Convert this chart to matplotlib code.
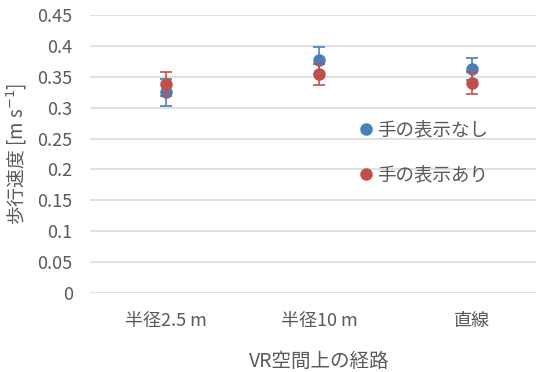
import numpy as np
import matplotlib.pyplot as plt

plt.rcParams['font.family'] = ['Noto Sans CJK JP', 'DejaVu Sans']

routes = ['半径2.5 m', '半径10 m', '直線']
no_hand = [0.325, 0.377, 0.363]
no_hand_err = [0.022, 0.022, 0.018]
with_hand = [0.338, 0.354, 0.340]
with_hand_err = [0.019, 0.017, 0.018]
yticks = [0, 0.05, 0.1, 0.15, 0.2, 0.25, 0.3, 0.35, 0.4, 0.45]
ytick_labels = ['0', '0.05', '0.1', '0.15', '0.2', '0.25', '0.3', '0.35', '0.4', '0.45']

gray = '#595959'
blue = '#4a7ebb'
red = '#c0504d'

fig = plt.figure(figsize=(5.36, 3.72), dpi=100)
# axes run a little past the right edge, like the original export
ax = fig.add_axes([90 / 536, 79 / 372, 458 / 536, 278 / 372])

x = np.arange(len(routes))
ax.errorbar(x, no_hand, yerr=no_hand_err, fmt='o', color=blue, ms=8,
            elinewidth=1.2, capsize=4, capthick=1.2, label='手の表示なし', zorder=3)
ax.errorbar(x, with_hand, yerr=with_hand_err, fmt='o', color=red, ms=8,
            elinewidth=1.2, capsize=4, capthick=1.2, label='手の表示あり', zorder=4)

ax.set_xlim(-0.5, len(routes) - 0.5)
ax.set_ylim(0, 0.45)
ax.set_yticks(yticks)
ax.set_yticklabels(ytick_labels)
ax.set_xticks(x)
ax.set_xticklabels(routes)
ax.grid(axis='y', color='#d9d9d9', lw=1.1)
ax.set_axisbelow(True)
for s in ax.spines.values():
    s.set_visible(False)
ax.tick_params(length=0, colors=gray, labelsize=13)
ax.tick_params(axis='y', pad=12.5)
ax.tick_params(axis='x', pad=14)

ax.set_xlabel('VR空間上の経路', color=gray, fontsize=14, labelpad=15)
ax.set_ylabel('歩行速度 [m s$^{-1}$]', color=gray, fontsize=13.5, labelpad=6)

handles, labels = ax.get_legend_handles_labels()
handles = [h[0] for h in handles]
leg = ax.legend(handles, labels, loc='center left', bbox_to_anchor=(338 / 536, 1 - 153 / 372),
                bbox_transform=fig.transFigure, frameon=False, fontsize=13.3,
                handletextpad=0.0, handlelength=1.2, labelspacing=1.45)
for t in leg.get_texts():
    t.set_color(gray)

fig.savefig('out.png', dpi=100)
